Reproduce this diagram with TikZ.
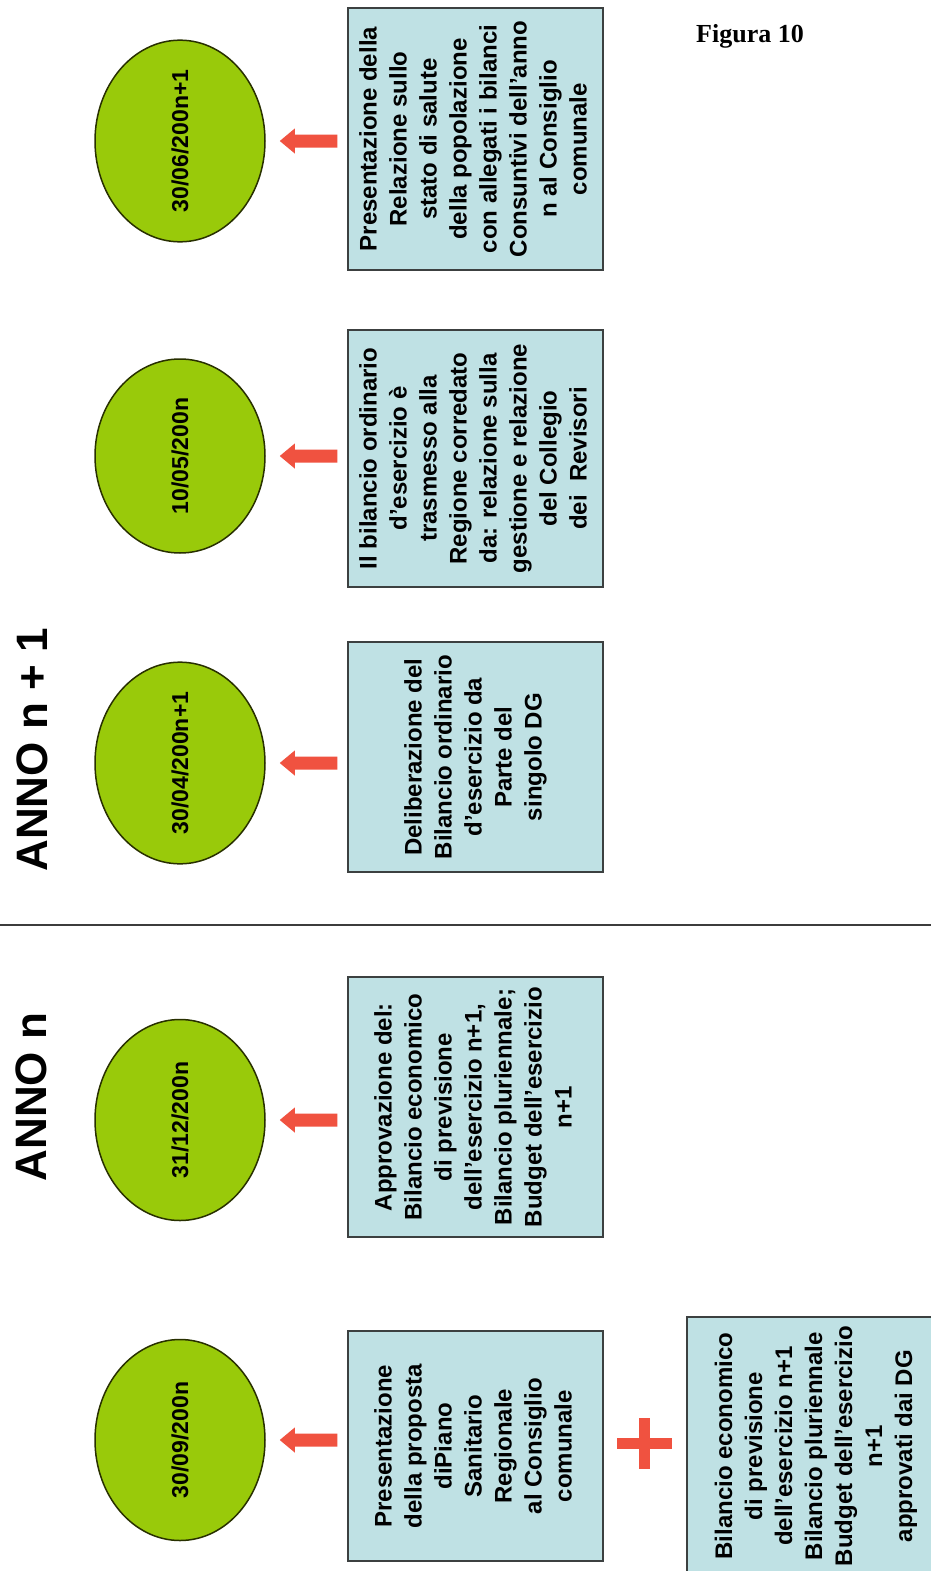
\documentclass[tikz,border=0pt]{standalone}
\usepackage{fontspec}
\usepackage{graphicx}
\setmainfont{Liberation Sans}
\newfontfamily\captionserif{Liberation Serif}
\usetikzlibrary{shapes.geometric,calc}

\definecolor{boxfill}{RGB}{191,225,228}
\definecolor{boxline}{RGB}{60,64,64}
\definecolor{bubfill}{RGB}{153,202,10}
\definecolor{bubline}{RGB}{40,48,0}
\definecolor{arrowred}{RGB}{240,82,64}
\definecolor{rulegray}{RGB}{60,60,60}

% vertical (rotated) multi-line text
\newcommand\vtext[1]{\rotatebox{90}{\begin{tabular}{@{}c@{}}#1\end{tabular}}}

% thick block arrow pointing from an info box to its date bubble
\newcommand\blockarrow[2]{%
  \fill[arrowred] let \p1=(#1.west), \p2=(#2.east) in
    (\x1-10pt,\y2+6.5pt) -- (\x2+29pt,\y2+6.5pt) -- (\x2+29pt,\y2+12.5pt)
    -- (\x2+14pt,\y2) -- (\x2+29pt,\y2-12.5pt) -- (\x2+29pt,\y2-6.5pt)
    -- (\x1-10pt,\y2-6.5pt) -- cycle;}

\begin{document}
\begin{tikzpicture}[x=1pt,y=-1pt,
  infobox/.style={draw=boxline, line width=1.5pt, fill=boxfill, inner sep=0pt,
    minimum width=255pt, font=\bfseries\fontsize{24}{30}\selectfont},
  datebub/.style={ellipse, draw=bubline, line width=1.5pt, fill=bubfill,
    inner sep=0pt, minimum width=170pt, font=\bfseries\fontsize{23}{28}\selectfont},
  yearlabel/.style={rotate=90, inner sep=0pt, font=\bfseries\fontsize{44}{50}\selectfont},
]
\useasboundingbox (0,0) rectangle (931,1571);
\fill[white] (0,0) rectangle (931,1571);
\clip (0,0) rectangle (931,1571);

% year headings and separator
\node[yearlabel] (annoN1) at (32,750) {ANNO n + 1};
\node[yearlabel] (annoN) at (31,1097) {ANNO n};
\coordinate (divL) at (0,925);
\coordinate (divR) at (931,925);
\draw[rulegray, line width=1.5pt] (divL) -- (divR);

\node[font=\captionserif\bfseries\fontsize{26}{30}\selectfont, anchor=base] (fig) at (750,43) {Figura 10};

% date bubbles
\node[datebub, minimum height=191pt] (e1) at (180,141) {\rotatebox{90}{30/06/200n+1}};
\node[datebub, minimum height=194pt] (e2) at (180,456) {\rotatebox{90}{10/05/200n}};
\node[datebub, minimum height=191pt] (e3) at (180,763) {\rotatebox{90}{30/04/200n+1}};
\node[datebub, minimum height=201pt] (e4) at (180,1120) {\rotatebox{90}{31/12/200n}};
\node[datebub, minimum height=201pt] (e5) at (180,1440) {\rotatebox{90}{30/09/200n}};

% info boxes
\node[infobox, minimum height=262pt] (b1) at (475.5,139) {\vtext{Presentazione della\\Relazione sullo\\stato di salute\\della popolazione\\con allegati i bilanci\\Consuntivi dell'anno\\n al Consiglio\\comunale}};
\node[infobox, minimum height=257pt] (b2) at (475.5,458.5) {\vtext{Il bilancio ordinario\\d'esercizio è\\trasmesso alla\\Regione corredato\\da: relazione sulla\\gestione e relazione\\del Collegio\\dei\ \ Revisori}};
\node[infobox, minimum height=230pt] (b3) at (475.5,757) {\vtext{Deliberazione del\\Bilancio ordinario\\d'esercizio da\\Parte del\\singolo DG}};
\node[infobox, minimum height=260pt] (b4) at (475.5,1107) {\vtext{Approvazione del:\\Bilancio economico\\di previsione\\dell'esercizio n+1,\\Bilancio pluriennale;\\Budget dell'esercizio\\n+1}};
\node[infobox, minimum height=230pt] (b5) at (475.5,1446) {\vtext{Presentazione\\della proposta\\diPiano\\Sanitario\\Regionale\\al Consiglio\\comunale}};
\node[infobox, minimum width=258pt, minimum height=258pt] (b6) at (816,1446) {\vtext{Bilancio economico\\di previsione\\dell'esercizio n+1\\Bilancio pluriennale\\Budget dell'esercizio\\n+1\\approvati dai DG}};

% arrows from boxes to bubbles
\blockarrow{b1}{e1}
\blockarrow{b2}{e2}
\blockarrow{b3}{e3}
\blockarrow{b4}{e4}
\blockarrow{b5}{e5}

% plus sign joining the two proposals
\coordinate (plus) at (644,1443);
\fill[arrowred] ($(plus)+(-27.5,-5.5)$) rectangle ($(plus)+(27.5,5.5)$);
\fill[arrowred] ($(plus)+(-5.5,-25.5)$) rectangle ($(plus)+(5.5,25.5)$);
\end{tikzpicture}
\end{document}
